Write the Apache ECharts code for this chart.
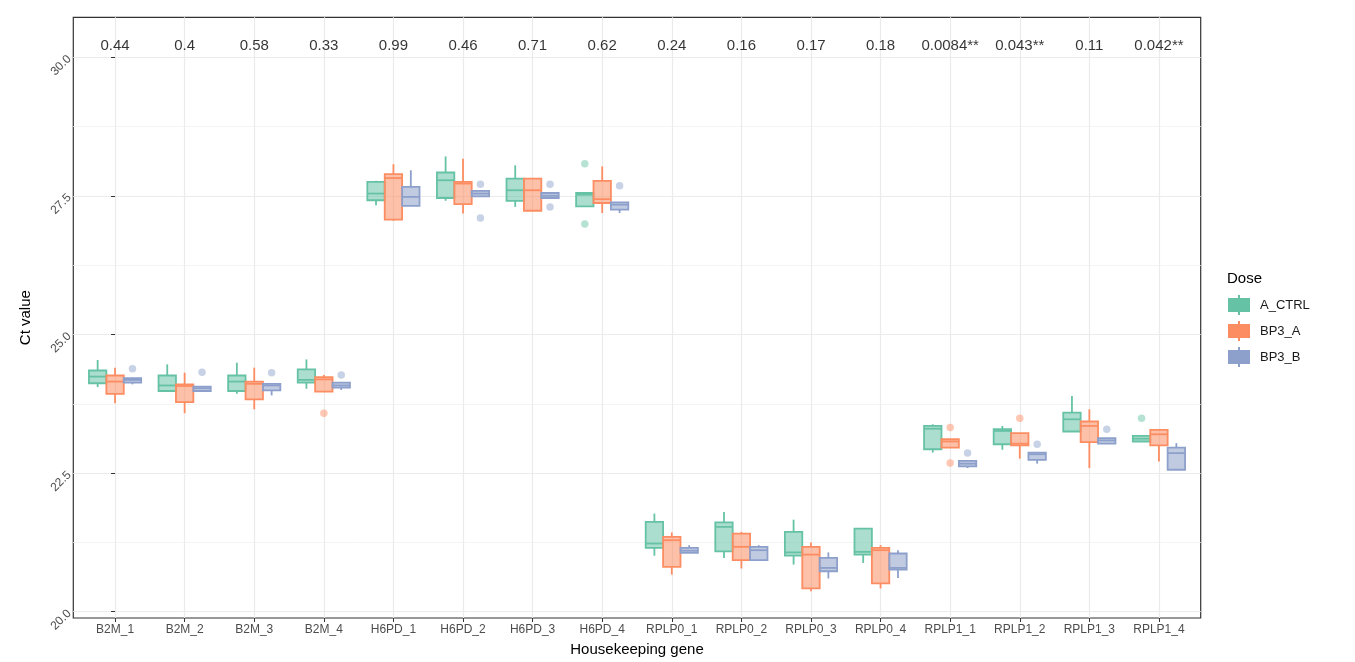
<!DOCTYPE html>
<html>
<head>
<meta charset="utf-8">
<title>Ct value by housekeeping gene</title>
<script src="https://cdn.jsdelivr.net/npm/echarts@6.0.0/dist/echarts.min.js"></script>
<style>
  html, body { margin: 0; padding: 0; background: #fff; }
  #main { width: 1355px; height: 662px; }
</style>
</head>
<body>
<div id="main"></div>
<script>
let genes = ['B2M_1', 'B2M_2', 'B2M_3', 'B2M_4', 'H6PD_1', 'H6PD_2', 'H6PD_3', 'H6PD_4',
             'RPLP0_1', 'RPLP0_2', 'RPLP0_3', 'RPLP0_4', 'RPLP1_1', 'RPLP1_2', 'RPLP1_3', 'RPLP1_4'];
let pLabels = ['0.44', '0.4', '0.58', '0.33', '0.99', '0.46', '0.71', '0.62',
               '0.24', '0.16', '0.17', '0.18', '0.0084**', '0.043**', '0.11', '0.042**'];
let pLabelY = 30.2;
let doses = ['A_CTRL', 'BP3_A', 'BP3_B'];
let yTicks = [20, 22.5, 25, 27.5, 30];
let yMinorTicks = [21.25, 23.75, 26.25, 28.75];

// box stats per gene: [lower whisker, q1, median, q3, upper whisker]
let ctrlBoxes = [
  [24.05, 24.12, 24.24, 24.35, 24.54], [23.98, 23.98, 24.08, 24.26, 24.46],
  [23.93, 23.98, 24.15, 24.26, 24.49], [24.02, 24.13, 24.18, 24.37, 24.55],
  [27.33, 27.42, 27.54, 27.75, 27.77], [27.41, 27.46, 27.78, 27.92, 28.21],
  [27.30, 27.41, 27.60, 27.81, 28.05], [27.31, 27.31, 27.52, 27.55, 27.55],
  [21.01, 21.15, 21.23, 21.62, 21.77], [20.97, 21.09, 21.53, 21.61, 21.80],
  [20.85, 21.01, 21.07, 21.44, 21.66], [20.88, 21.03, 21.08, 21.50, 21.50],
  [22.87, 22.93, 23.30, 23.35, 23.38], [22.92, 23.02, 23.26, 23.29, 23.35],
  [23.25, 23.25, 23.47, 23.59, 23.89], [23.06, 23.07, 23.12, 23.17, 23.17]
];
let bp3aBoxes = [
  [23.76, 23.93, 24.15, 24.26, 24.40], [23.58, 23.78, 24.07, 24.10, 24.31],
  [23.65, 23.83, 24.11, 24.15, 24.40], [23.97, 23.97, 24.19, 24.23, 24.27],
  [27.05, 27.07, 27.82, 27.89, 28.07], [27.18, 27.35, 27.72, 27.75, 28.17],
  [27.23, 27.23, 27.60, 27.81, 27.81], [27.19, 27.37, 27.44, 27.77, 28.03],
  [20.67, 20.81, 21.29, 21.35, 21.43], [20.78, 20.93, 21.17, 21.41, 21.44],
  [20.37, 20.42, 21.03, 21.17, 21.25], [20.42, 20.51, 21.11, 21.15, 21.20],
  [22.96, 22.96, 23.07, 23.11, 23.11], [22.76, 23.00, 23.03, 23.22, 23.22],
  [22.59, 23.06, 23.35, 23.43, 23.65], [22.71, 23.00, 23.20, 23.28, 23.28]
];
let bp3bBoxes = [
  [24.10, 24.13, 24.18, 24.21, 24.21], [23.98, 23.98, 24.03, 24.06, 24.06],
  [23.90, 23.99, 24.08, 24.11, 24.11], [24.00, 24.04, 24.08, 24.13, 24.13],
  [27.32, 27.32, 27.48, 27.66, 27.96], [27.49, 27.49, 27.54, 27.59, 27.59],
  [27.46, 27.46, 27.50, 27.55, 27.55], [27.19, 27.25, 27.34, 27.38, 27.38],
  [21.06, 21.06, 21.10, 21.15, 21.20], [20.93, 20.93, 21.11, 21.17, 21.20],
  [20.60, 20.73, 20.79, 20.97, 21.07], [20.61, 20.76, 20.79, 21.05, 21.11],
  [22.59, 22.62, 22.67, 22.72, 22.72], [22.67, 22.74, 22.84, 22.87, 22.87],
  [23.03, 23.03, 23.09, 23.13, 23.13], [22.56, 22.56, 22.86, 22.96, 23.04]
];

// outliers: [gene index, value]
let ctrlOutliers = [[7, 28.08], [7, 26.99], [15, 23.49]];
let bp3aOutliers = [[3, 23.58], [12, 23.32], [12, 22.68], [13, 23.49]];
let bp3bOutliers = [[0, 24.38], [1, 24.32], [2, 24.31], [3, 24.27], [5, 27.71], [5, 27.10],
                    [6, 27.71], [6, 27.30], [7, 27.68], [12, 22.86], [13, 23.02], [14, 23.29]];

let allBoxes = [ctrlBoxes, bp3aBoxes, bp3bBoxes];
let allOutliers = [ctrlOutliers, bp3aOutliers, bp3bOutliers];

let lineColors = ['#66C2A5', '#FC8D62', '#8DA0CB'],
    fillColors = ['rgba(102,194,165,0.55)', 'rgba(252,141,98,0.55)', 'rgba(141,160,203,0.55)'],
    pointColors = ['rgba(102,194,165,0.6)', 'rgba(252,141,98,0.6)', 'rgba(141,160,203,0.6)'],
    dodge = [-0.25, 0, 0.25],
    boxWidth = 0.25,
    textFont = "'Liberation Sans', Arial, sans-serif";

var myChart = echarts.init(document.getElementById('main'));

let boxSeries = (boxes, di) => ({
  name: doses[di],
  type: 'custom',
  itemStyle: { color: lineColors[di] },
  encode: { x: 0, y: [1, 2, 3, 4, 5] },
  data: boxes.map((b, i) => [i].concat(b)),
  z: 3,
  renderItem: function (params, api) {
    let x = api.value(0) + dodge[di];
    let half = api.size([boxWidth, 0])[0] / 2;
    let pt = v => api.coord([x, v]);
    let lo = pt(api.value(1)), q1 = pt(api.value(2)), md = pt(api.value(3)),
        q3 = pt(api.value(4)), hi = pt(api.value(5));
    let stroke = { stroke: lineColors[di], lineWidth: 1.8, fill: null };
    return {
      type: 'group',
      children: [
        { type: 'line', shape: { x1: lo[0], y1: lo[1], x2: q1[0], y2: q1[1] }, style: stroke },
        { type: 'line', shape: { x1: q3[0], y1: q3[1], x2: hi[0], y2: hi[1] }, style: stroke },
        { type: 'rect', shape: { x: q3[0] - half, y: q3[1], width: half * 2, height: q1[1] - q3[1] },
          style: { fill: fillColors[di], stroke: lineColors[di], lineWidth: 1.8 } },
        { type: 'line', shape: { x1: md[0] - half, y1: md[1], x2: md[0] + half, y2: md[1] }, style: stroke }
      ]
    };
  }
});

let outlierSeries = (points, di) => ({
  name: doses[di],
  type: 'scatter',
  symbol: 'circle',
  symbolSize: 7.5,
  z: 4,
  itemStyle: { color: pointColors[di] },
  data: points.map(p => [p[0] + dodge[di], p[1]])
});

let series = [];
doses.forEach((d, di) => {
  series.push(boxSeries(allBoxes[di], di));
  series.push(outlierSeries(allOutliers[di], di));
});
series.push({
  name: 'p',
  type: 'scatter',
  symbolSize: 0,
  clip: false,
  z: 5,
  label: {
    show: true,
    position: 'inside',
    formatter: p => pLabels[p.dataIndex],
    color: '#000',
    fontSize: 15,
    fontFamily: textFont
  },
  data: genes.map((g, i) => [i, pLabelY])
});

var option = {
  animation: false,
  backgroundColor: '#fff',
  title: {
    text: 'Dose',
    left: 1222,
    top: 266,
    textStyle: { fontSize: 15, fontWeight: 'normal', color: '#000', fontFamily: textFont }
  },
  legend: {
    data: doses,
    orient: 'vertical',
    left: 1228,
    top: 295,
    padding: 0,
    itemWidth: 22,
    itemHeight: 20,
    itemGap: 6,
    icon: 'path://M10,0h2v3h-2z M0,3h22v14h-22z M10,17h2v3h-2z',
    textStyle: { fontSize: 13, color: '#1a1a1a', fontFamily: textFont, padding: [0, 0, 0, 5] },
    selectedMode: false
  },
  grid: {
    left: 73.3,
    right: 154.3,
    top: 17.3,
    bottom: 41.7,
    show: true,
    borderColor: '#333333',
    borderWidth: 1.2,
    backgroundColor: 'transparent'
  },
  xAxis: {
    type: 'value',
    min: -0.6,
    max: 15.6,
    name: 'Housekeeping gene',
    nameLocation: 'middle',
    nameGap: 24,
    nameTextStyle: { fontSize: 15, color: '#000', fontFamily: textFont },
    axisLine: { show: false },
    axisTick: { show: true, length: 4, customValues: genes.map((g, i) => i), lineStyle: { color: '#333' } },
    axisLabel: {
      customValues: genes.map((g, i) => i),
      formatter: v => genes[Math.round(v)],
      fontSize: 12,
      color: '#4D4D4D',
      margin: 6,
      fontFamily: textFont
    },
    splitLine: { show: true, lineStyle: { color: '#EBEBEB', width: 1.2 } }
  },
  yAxis: [{
    type: 'value',
    min: 19.887,
    max: 30.7185,
    name: 'Ct value',
    nameLocation: 'middle',
    nameRotate: 90,
    nameGap: 40,
    nameTextStyle: { fontSize: 15, color: '#000', fontFamily: textFont },
    axisLine: { show: false },
    axisTick: { show: true, length: 4, customValues: yTicks, lineStyle: { color: '#333' } },
    axisLabel: {
      customValues: yTicks,
      formatter: v => v.toFixed(1),
      rotate: 45,
      fontSize: 12,
      color: '#4D4D4D',
      margin: 4,
      fontFamily: textFont
    },
    splitLine: { show: true, lineStyle: { color: '#EBEBEB', width: 1.2 } }
  }, {
    type: 'value',
    min: 19.887,
    max: 30.7185,
    position: 'left',
    axisLine: { show: false },
    axisTick: { show: false, customValues: yMinorTicks },
    axisLabel: { show: false, customValues: yMinorTicks },
    splitLine: { show: true, lineStyle: { color: '#F4F4F4', width: 1 } }
  }],
  series: series
};

myChart.setOption(option);
</script>
</body>
</html>
